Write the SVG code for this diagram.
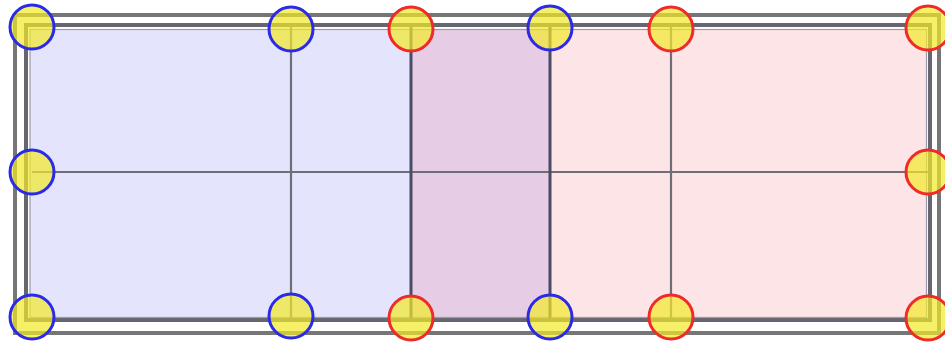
<svg xmlns="http://www.w3.org/2000/svg" width="945" height="343" viewBox="0 0 945 343">
<style>
.frame{fill:none;stroke:#767676;stroke-width:4}
.frame2{fill:none;stroke:#666670;stroke-width:4}
.thin{stroke:#6e6e78;stroke-width:2.2;fill:none}
.edge{stroke:#484c64;stroke-width:3;fill:none}
.pt{fill:#f2ea2a;fill-opacity:0.7;stroke-width:3}
.b{stroke:#2a2ae8}
.r{stroke:#ee2a2a}
</style>
<rect width="945" height="343" fill="#ffffff"/>
<g id="regions">
<rect x="30" y="30" width="381" height="287" fill="#e4e4fc"/>
<rect x="411" y="30" width="139" height="287" fill="#e6cce4"/>
<rect x="550" y="30" width="377" height="287" fill="#fde4e6"/>
</g>
<g id="frame">
<rect class="frame" x="15" y="15" width="924" height="318"/>
<rect class="frame2" x="26" y="25" width="904" height="295"/>
<rect x="30" y="29.5" width="896.5" height="288" fill="none" stroke="#9a9aaa" stroke-width="1.2"/>
</g>
<g id="connectors">
<line class="thin" x1="291" y1="27" x2="291" y2="318"/>
<line class="thin" x1="671" y1="27" x2="671" y2="318"/>
<line class="thin" x1="32" y1="172" x2="928" y2="172"/>
<line class="edge" x1="411" y1="27" x2="411" y2="318"/>
<line class="edge" x1="550" y1="27" x2="550" y2="318"/>
</g>
<g id="n1"><circle class="pt b" cx="32" cy="27" r="22"/></g>
<g id="n2"><circle class="pt b" cx="291" cy="29" r="22"/></g>
<g id="n3"><circle class="pt r" cx="411" cy="29" r="22"/></g>
<g id="n4"><circle class="pt b" cx="550" cy="28" r="22"/></g>
<g id="n5"><circle class="pt r" cx="671" cy="29" r="22"/></g>
<g id="n6"><circle class="pt r" cx="928" cy="28" r="22"/></g>
<g id="n7"><circle class="pt b" cx="32" cy="172" r="22"/></g>
<g id="n8"><circle class="pt r" cx="928" cy="172" r="22"/></g>
<g id="n9"><circle class="pt b" cx="32" cy="317" r="22"/></g>
<g id="n10"><circle class="pt b" cx="291" cy="316" r="22"/></g>
<g id="n11"><circle class="pt r" cx="411" cy="318" r="22"/></g>
<g id="n12"><circle class="pt b" cx="550" cy="317" r="22"/></g>
<g id="n13"><circle class="pt r" cx="671" cy="317" r="22"/></g>
<g id="n14"><circle class="pt r" cx="928" cy="318" r="22"/></g>
</svg>
